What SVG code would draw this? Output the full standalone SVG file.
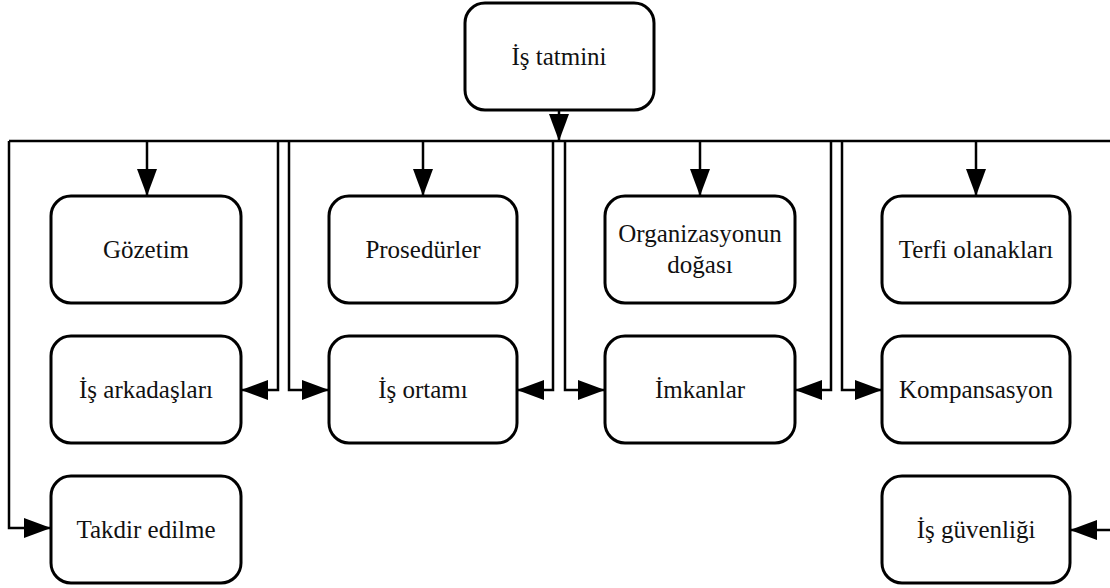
<svg xmlns="http://www.w3.org/2000/svg" width="1110" height="588" viewBox="0 0 1110 588">
  <defs>
    <marker id="arrow" markerUnits="userSpaceOnUse" markerWidth="28" markerHeight="20" refX="27" refY="10" orient="auto">
      <path d="M0,0 L27,10 L0,20 Z" fill="#000"/>
    </marker>
    <style>
      .box { fill: #fff; stroke: #000; stroke-width: 3; }
      .lbl { font-family: 'Liberation Serif', 'DejaVu Serif', serif; font-size: 25px; fill: #111; text-anchor: middle; }
      .wire { fill: none; stroke: #000; stroke-width: 2.5; }
      .arr { marker-end: url(#arrow); }
    </style>
  </defs>
  <rect width="1110" height="588" fill="#fff"/>

  <!-- connectors -->
  <g id="connectors">
    <!-- root to bus -->
    <path class="wire arr" d="M559,110 V141"/>
    <!-- distribution bus -->
    <path class="wire" d="M9,141 H1110"/>
    <!-- left column -->
    <path class="wire arr" d="M9,141 V528 H51"/>
    <path class="wire arr" d="M147,141 V196"/>
    <path class="wire arr" d="M278,141 V390 H241"/>
    <!-- second column -->
    <path class="wire arr" d="M289,141 V390 H329"/>
    <path class="wire arr" d="M423,141 V196"/>
    <path class="wire arr" d="M553,141 V390 H517"/>
    <!-- third column -->
    <path class="wire arr" d="M565,141 V390 H605"/>
    <path class="wire arr" d="M700,141 V196"/>
    <path class="wire arr" d="M831,141 V390 H795"/>
    <!-- right column -->
    <path class="wire arr" d="M842,141 V390 H882"/>
    <path class="wire arr" d="M976,141 V196"/>
    <path class="wire arr" d="M1112,141 V530 H1070"/>
  </g>

  <g font-family="'Liberation Serif', 'DejaVu Serif', serif">
  <g id="is-tatmini">
    <rect class="box" x="465" y="3" width="189" height="107" rx="20"/>
    <text class="lbl" x="559" y="65">İş tatmini</text>
  </g>

  <g id="gozetim">
    <rect class="box" x="51" y="196" width="190" height="107" rx="20"/>
    <text class="lbl" x="146" y="258">Gözetim</text>
  </g>
  <g id="is-arkadaslari">
    <rect class="box" x="51" y="336" width="190" height="107" rx="20"/>
    <text class="lbl" x="146" y="398">İş arkadaşları</text>
  </g>
  <g id="takdir-edilme">
    <rect class="box" x="51" y="476" width="190" height="107" rx="20"/>
    <text class="lbl" x="146" y="538">Takdir edilme</text>
  </g>

  <g id="prosedurler">
    <rect class="box" x="329" y="196" width="188" height="107" rx="20"/>
    <text class="lbl" x="423" y="258">Prosedürler</text>
  </g>
  <g id="is-ortami">
    <rect class="box" x="329" y="336" width="188" height="107" rx="20"/>
    <text class="lbl" x="423" y="398">İş ortamı</text>
  </g>

  <g id="organizasyonun-dogasi">
    <rect class="box" x="605" y="196" width="190" height="107" rx="20"/>
    <text class="lbl" x="700" y="242">Organizasyonun</text>
    <text class="lbl" x="700" y="273">doğası</text>
  </g>
  <g id="imkanlar">
    <rect class="box" x="605" y="336" width="190" height="107" rx="20"/>
    <text class="lbl" x="700" y="398">İmkanlar</text>
  </g>

  <g id="terfi-olanaklari">
    <rect class="box" x="882" y="196" width="188" height="107" rx="20"/>
    <text class="lbl" x="976" y="258">Terfi olanakları</text>
  </g>
  <g id="kompansasyon">
    <rect class="box" x="882" y="336" width="188" height="107" rx="20"/>
    <text class="lbl" x="976" y="398">Kompansasyon</text>
  </g>
  <g id="is-guvenligi">
    <rect class="box" x="882" y="476" width="188" height="107" rx="20"/>
    <text class="lbl" x="976" y="538">İş güvenliği</text>
  </g>
  </g>
</svg>
